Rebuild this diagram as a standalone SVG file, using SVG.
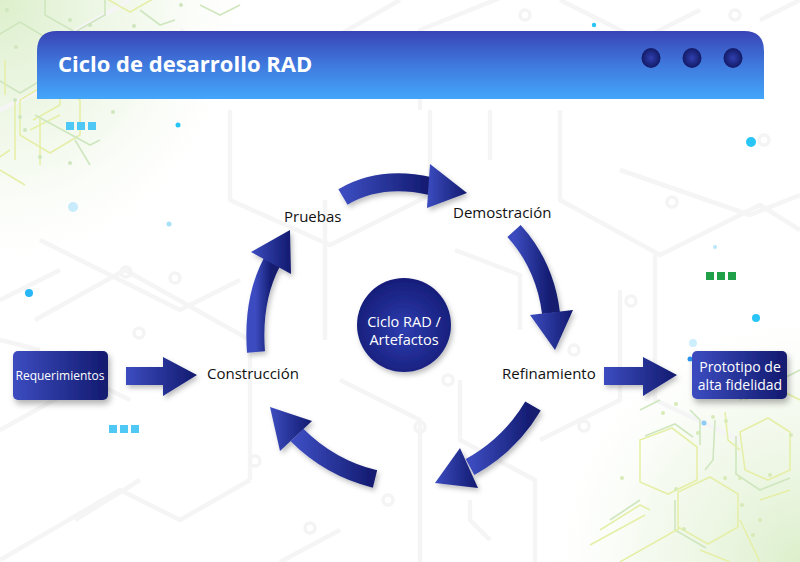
<svg xmlns="http://www.w3.org/2000/svg" width="800" height="562" viewBox="0 0 800 562">
<defs>
<style>
.lbl{font-family:"Open Sans","Liberation Sans",sans-serif;font-size:15px;fill:#111;}
.wt{font-family:"Open Sans","Liberation Sans",sans-serif;fill:#fff;text-anchor:middle;}
.circ{fill:none;stroke:#f5f5f6;stroke-width:4.5;stroke-linejoin:round;}
.cdot{fill:none;stroke:#f4f4f5;stroke-width:3.5;}
.hg{fill:none;stroke:#cfe6bf;stroke-width:1.6;}
.hy{fill:none;stroke:#e6efa8;stroke-width:1.6;}
.arw{fill:url(#ag);}
.arb{fill:none;stroke:url(#ag);stroke-width:18;}
</style>
<linearGradient id="hdr" x1="0" y1="0" x2="0" y2="1">
<stop offset="0" stop-color="#3944b6"/><stop offset="0.5" stop-color="#3f79dd"/><stop offset="1" stop-color="#43a6fa"/>
</linearGradient>
<linearGradient id="ag" x1="0" y1="0" x2="1" y2="0">
<stop offset="0" stop-color="#3c4cc0"/><stop offset="1" stop-color="#121a6e"/>
</linearGradient>
<radialGradient id="cg" cx="0.5" cy="0.55" r="0.55">
<stop offset="0" stop-color="#2d3db0"/><stop offset="1" stop-color="#161d78"/>
</radialGradient>
<radialGradient id="dg" cx="0.5" cy="0.5" r="0.5">
<stop offset="0" stop-color="#3040b0"/><stop offset="1" stop-color="#121a66"/>
</radialGradient>
<radialGradient id="glowTL" cx="0" cy="0" r="1">
<stop offset="0" stop-color="#dcefcb" stop-opacity="1"/><stop offset="0.6" stop-color="#eef7e6" stop-opacity="0.6"/><stop offset="1" stop-color="#ffffff" stop-opacity="0"/>
</radialGradient>
<radialGradient id="glowBR" cx="1" cy="1" r="1">
<stop offset="0" stop-color="#dcefcb" stop-opacity="1"/><stop offset="0.6" stop-color="#eef7e6" stop-opacity="0.6"/><stop offset="1" stop-color="#ffffff" stop-opacity="0"/>
</radialGradient>
<filter id="sh" x="-20%" y="-20%" width="150%" height="160%">
<feDropShadow dx="2" dy="4" stdDeviation="3" flood-color="#000" flood-opacity="0.3"/>
</filter>
<filter id="sh2" x="-20%" y="-20%" width="150%" height="160%">
<feDropShadow dx="2" dy="3" stdDeviation="2.5" flood-color="#000" flood-opacity="0.25"/>
</filter>
</defs>

<rect width="800" height="562" fill="#ffffff"/>

<!-- background circuits -->
<g id="background">
<rect x="0" y="0" width="260" height="280" fill="url(#glowTL)"/>
<rect x="540" y="300" width="260" height="262" fill="url(#glowBR)"/>
<path class="circ" d="M130 0 L60 40 M180 30 L260 80 L400 0 M420 110 L420 30 L520 -10 M560 0 L640 40 L700 10 M760 20 L800 0"/>
<path class="circ" d="M0 110 L40 90 M230 110 L230 200 L330 245 L430 195 L430 110 M490 110 L490 160 M560 110 L560 200 L660 255 L760 205 L800 230"/>
<path class="circ" d="M40 240 L180 310 L240 280 M0 300 L60 270 M0 340 L40 350 M35 320 L125 270 L250 340 L250 480"/>
<path class="circ" d="M325 340 L325 200 M460 380 L460 440 L535 480 L535 562 M455 250 L520 275 L520 330"/>
<path class="circ" d="M0 430 L90 380 L130 400 M0 560 L120 490 L180 520 L250 480 M620 170 L750 215 L800 195 M655 255 L655 400 L740 440 M620 290 L620 400 L540 440"/>
<path class="circ" d="M75 520 L140 480 M340 380 L420 420 L420 562 M280 562 L340 530 M470 500 L470 520 L490 540"/>
<circle class="cdot" cx="268" cy="250" r="5"/><circle class="cdot" cx="175" cy="278" r="5"/>
<circle class="cdot" cx="126" cy="272" r="5"/><circle class="cdot" cx="139" cy="333" r="5"/>
<circle class="cdot" cx="420" cy="427" r="5"/><circle class="cdot" cx="631" cy="301" r="5"/>
<circle class="cdot" cx="672" cy="202" r="5"/><circle class="cdot" cx="764" cy="140" r="5"/>
<circle class="cdot" cx="255" cy="461" r="5"/><circle class="cdot" cx="388" cy="500" r="5"/>
<circle class="cdot" cx="310" cy="528" r="5"/><circle class="cdot" cx="448" cy="380" r="5"/>
<circle class="cdot" cx="574" cy="350" r="5"/><circle class="cdot" cx="584" cy="426" r="5"/>
<circle class="cdot" cx="735" cy="15" r="5"/><circle class="cdot" cx="525" cy="15" r="5"/>

<!-- green hex top-left -->
<path class="hg" d="M-10 40 L20 22 L50 40 L50 75 L20 93 L-10 75 Z"/>
<path class="hy" d="M20 100 L50 82 L80 100 L80 135 L50 153 L20 135 Z"/>
<path class="hg" d="M45 0 L45 15 L75 32 L105 15 L105 0"/>
<path class="hy" d="M100 -5 L130 12 L160 -5"/>
<path class="hy" d="M33 120 L60 105 L60 84 M10 150 L-5 160"/>
<path class="hg" d="M140 10 L160 25 L175 20 M200 5 L220 15 L240 5 M240 60 L262 46 L280 50"/>
<path class="hy" d="M5 60 L5 95 M15 100 L15 160 M40 118 L40 165 M30 130 L60 115"/>
<path class="hg" d="M35 115 L90 145 L100 140 M75 140 L90 165"/>
<path class="hy" d="M0 170 L25 185"/>
<g fill="#cfe6bf"><circle cx="7" cy="10" r="2"/><circle cx="16" cy="47" r="2"/><circle cx="70" cy="20" r="2"/><circle cx="90" cy="25" r="2"/><circle cx="134" cy="26" r="2"/><circle cx="178" cy="33" r="2"/><circle cx="15" cy="100" r="2"/><circle cx="25" cy="130" r="2"/><circle cx="20" cy="117" r="2"/><circle cx="40" cy="157" r="2"/><circle cx="70" cy="163" r="2"/><circle cx="113" cy="112" r="2"/><circle cx="181" cy="5" r="2"/></g>
<!-- green hex bottom-right -->
<path class="hy" d="M640 440 L672 428 L697 447 L697 480 L668 494 L640 482 Z"/>
<path class="hg" d="M645 436 L675 424 L693 437"/>
<path class="hy" d="M678 492 L710 477 L738 494 L738 527 L708 544 L678 527 Z"/>
<path class="hg" d="M675 500 L675 530 L706 548"/>
<path class="hy" d="M740 432 L768 418 L790 432 L790 470 L768 480 L745 470 Z"/>
<path class="hg" d="M736 436 L736 474 L760 490 L790 478"/>
<path class="hy" d="M745 400 L770 385 L800 400"/>
<path class="hg" d="M740 400 L765 385 M780 380 L800 370"/>
<path class="hy" d="M600 530 L640 505 L650 510 M590 545 L645 515 M620 562 L680 528"/>
<path class="hg" d="M610 520 L640 500 M640 410 L660 400 M690 410 L700 420 L700 445"/>
<path class="hy" d="M725 412 L728 440 L740 450 M760 500 L790 490 M740 520 L760 562 M700 550 L730 562"/>
<path class="hg" d="M715 420 L713 460 L705 470"/>
<g fill="#d7eab8"><circle cx="622" cy="478" r="2"/><circle cx="663" cy="413" r="2"/><circle cx="676" cy="404" r="2"/><circle cx="698" cy="433" r="2"/><circle cx="713" cy="417" r="2"/><circle cx="726" cy="421" r="2"/><circle cx="676" cy="489" r="2"/><circle cx="684" cy="529" r="2"/><circle cx="725" cy="478" r="2"/><circle cx="740" cy="478" r="2"/><circle cx="753" cy="535" r="2"/><circle cx="760" cy="520" r="2"/><circle cx="770" cy="475" r="2"/><circle cx="791" cy="435" r="2"/><circle cx="742" cy="505" r="2"/></g>
</g>

<!-- decorative dots and squares -->
<g id="decor">
<circle cx="594" cy="25" r="2.2" fill="#29c5f6"/>
<circle cx="178" cy="125" r="2.5" fill="#29c5f6"/>
<circle cx="751" cy="142" r="5" fill="#29c5f6"/>
<circle cx="73" cy="207" r="5" fill="#c8ecfb"/>
<circle cx="169" cy="224" r="2.5" fill="#a8e0f8"/>
<circle cx="29" cy="293" r="4" fill="#29b6f6"/>
<circle cx="715" cy="247" r="2" fill="#b8e6fa"/>
<circle cx="756" cy="318" r="4" fill="#29c5f6"/>
<circle cx="693" cy="343" r="4" fill="#cdeefc"/>
<circle cx="690" cy="359" r="2.5" fill="#2b95f0"/>
<circle cx="704" cy="423" r="2.5" fill="#8ecbf5"/>
<g fill="#4fc8f5"><rect x="66" y="122" width="8" height="8"/><rect x="77" y="122" width="8" height="8"/><rect x="88" y="122" width="8" height="8"/>
<rect x="109" y="425" width="8" height="8"/><rect x="120" y="425" width="8" height="8"/><rect x="131" y="425" width="8" height="8"/></g>
<g fill="#21a04a"><rect x="706" y="272" width="8" height="8"/><rect x="717" y="272" width="8" height="8"/><rect x="728" y="272" width="8" height="8"/></g>
</g>

<!-- header -->
<g id="header">
<path d="M57 31 H744 Q764 31 764 51 V99 H37 V51 Q37 31 57 31 Z" fill="url(#hdr)"/>
<text x="58" y="72" font-family="'Open Sans','Liberation Sans',sans-serif" font-size="22" font-weight="bold" fill="#fff">Ciclo de desarrollo RAD</text>
<ellipse cx="651" cy="58" rx="9.5" ry="10" fill="url(#dg)"/>
<ellipse cx="692" cy="58" rx="9.5" ry="10" fill="url(#dg)"/>
<ellipse cx="733" cy="58" rx="9.5" ry="10" fill="url(#dg)"/>
</g>

<!-- connectors -->
<g id="connectors" filter="url(#sh2)">
<!-- Requerimientos -> Construccion -->
<path class="arw" d="M126 367 H163 V357 L197 375 L163 396 V385 H126 Z"/>
<!-- Refinamiento -> Prototipo -->
<path class="arw" d="M604 367 H643 V357 L677 375 L643 396 V385 H604 Z"/>
<!-- Construccion -> Pruebas -->
<path class="arb" d="M256 352 Q252 300 272 262"/>
<path class="arw" d="M251 252 L290 230 L291 274 Z"/>
<!-- Pruebas -> Demostracion -->
<path class="arb" d="M343 197 Q380 175 430 186"/>
<path class="arw" d="M430 164 L467 193 L427 208 Z"/>
<!-- Demostracion -> Refinamiento -->
<path class="arb" d="M514 231 Q545 265 551 313"/>
<path class="arw" d="M530 315 L573 310 L555 350 Z"/>
<!-- Refinamiento -> (bottom) -->
<path class="arb" d="M533 406 Q510 445 470 467"/>
<path class="arw" d="M460 448 L478 488 L435 483 Z"/>
<!-- bottom -> Construccion -->
<path class="arb" d="M375 479 Q330 468 297 435"/>
<path class="arw" d="M312 421 L280 451 L270 407 Z"/>
</g>

<!-- nodes -->
<g id="center">
<circle cx="404" cy="325" r="47" fill="url(#cg)" filter="url(#sh2)"/>
<text class="wt" x="404" y="327" font-size="14.5">Ciclo RAD /</text>
<text class="wt" x="404" y="345" font-size="14.5">Artefactos</text>
</g>
<g id="requerimientos">
<rect x="13" y="351" width="95" height="49" rx="5" fill="url(#ag)" filter="url(#sh)"/>
<text class="wt" x="60" y="380" font-size="12">Requerimientos</text>
</g>
<g id="prototipo">
<rect x="692" y="351" width="95" height="48" rx="5" fill="url(#ag)" filter="url(#sh)"/>
<text class="wt" x="740" y="372" font-size="14">Prototipo de</text>
<text class="wt" x="740" y="390" font-size="14">alta fidelidad</text>
</g>
<g id="construccion"><text class="lbl" x="207" y="379">Construcción</text></g>
<g id="pruebas"><text class="lbl" x="284" y="222">Pruebas</text></g>
<g id="demostracion"><text class="lbl" x="453" y="218">Demostración</text></g>
<g id="refinamiento"><text class="lbl" x="502" y="379">Refinamiento</text></g>
</svg>
